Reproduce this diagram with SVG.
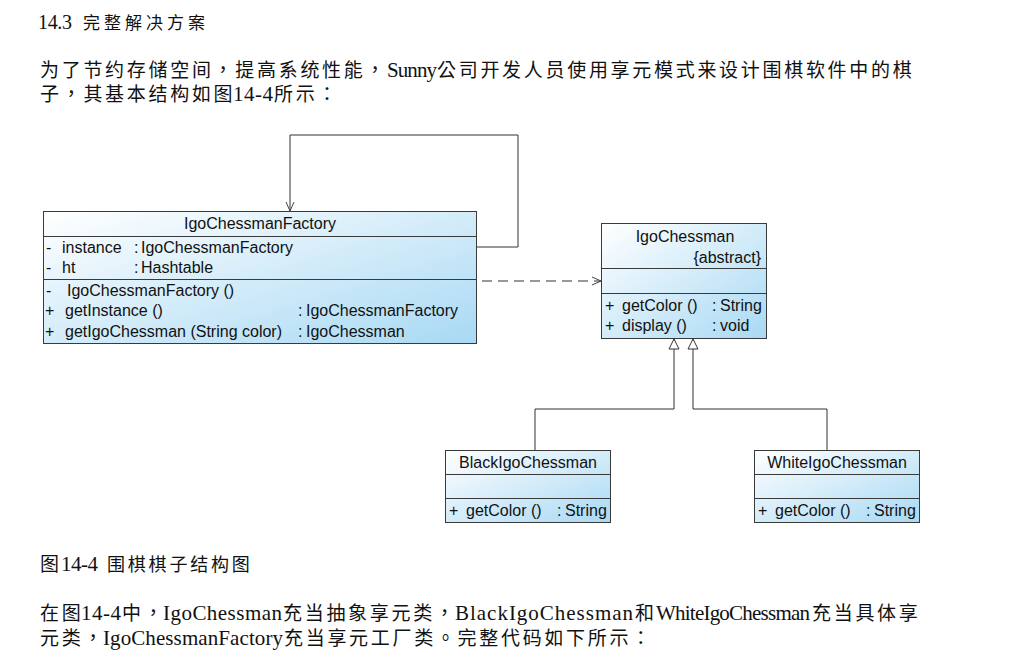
<svg xmlns="http://www.w3.org/2000/svg" width="1021" height="668" viewBox="0 0 1021 668">
<defs>
<linearGradient id="g" x1="0" y1="0" x2="1" y2="1">
<stop offset="0" stop-color="#ffffff"/>
<stop offset="1" stop-color="#a8d9f4"/>
</linearGradient>
<marker id="open" markerWidth="12" markerHeight="12" refX="10" refY="5" orient="auto" markerUnits="userSpaceOnUse">
<path d="M1,1 L10,5 L1,9" fill="none" stroke="#444" stroke-width="1"/>
</marker>
<marker id="tri" markerWidth="14" markerHeight="14" refX="11" refY="6" orient="auto" markerUnits="userSpaceOnUse">
<path d="M1,1 L11,6 L1,11 Z" fill="#fff" stroke="#333" stroke-width="1"/>
</marker>
</defs>
<style>
.bg{fill:#fff}
.box{fill:url(#g);stroke:#3a3a3a;stroke-width:1}
.dv{stroke:#3a3a3a;stroke-width:1}
.u{font-family:'Liberation Sans',Arial,sans-serif;font-size:16px;fill:#111}
.c{text-anchor:middle}
.e{text-anchor:end}
.t{font-family:'Liberation Serif','Noto Sans CJK TC',serif;fill:#111}
.lat{font-size:21px}
.cjk{font-size:19px;letter-spacing:2.7px}
.ln{fill:none;stroke:#333;stroke-width:1}
</style>
<rect class="bg" x="0" y="0" width="1021" height="668"/>

<g id="text-top">
<text class="t" x="38" y="29" font-size="20" textLength="34">14.3</text>
<text class="t" x="83" y="29" font-size="17" letter-spacing="4">完整解决方案</text>
<text class="t cjk" x="40" y="77">为了节约存储空间，提高系统性能，</text>
<text class="t lat" x="387" y="77" textLength="50">Sunny</text>
<text class="t cjk" x="437" y="77">公司开发人员使用享元模式来设计围棋软件中的棋</text>
<text class="t cjk" x="40" y="101">子，其基本结构如图</text>
<text class="t lat" x="233" y="101" textLength="40">14-4</text>
<text class="t cjk" x="274" y="101">所示：</text>
</g>

<g id="connectors">
<path class="ln" d="M476,247 H518 V135 H290 V211" stroke="#555" marker-end="url(#open)"/>
<path class="ln" d="M482,281 H601" stroke-dasharray="10,6" marker-end="url(#open)"/>
<path class="ln" d="M535,450 V409 H674 V339" marker-end="url(#tri)"/>
<path class="ln" d="M827,450 V409 H693 V339" marker-end="url(#tri)"/>
</g>

<g id="IgoChessmanFactory">
<rect class="box" x="43.5" y="211.5" width="433" height="132"/>
<line class="dv" x1="43.5" y1="236.5" x2="476.5" y2="236.5"/>
<line class="dv" x1="43.5" y1="279.5" x2="476.5" y2="279.5"/>
<text class="u c" x="260" y="229">IgoChessmanFactory</text>
<text class="u" x="46" y="253">-</text>
<text class="u" x="62" y="253">instance</text>
<text class="u" x="134" y="253">:</text>
<text class="u" x="141" y="253">IgoChessmanFactory</text>
<text class="u" x="46" y="273">-</text>
<text class="u" x="62" y="273">ht</text>
<text class="u" x="134" y="273">:</text>
<text class="u" x="141" y="273">Hashtable</text>
<text class="u" x="46" y="296">-</text>
<text class="u" x="67" y="296">IgoChessmanFactory ()</text>
<text class="u" x="45" y="316">+</text>
<text class="u" x="65" y="316">getInstance ()</text>
<text class="u" x="298" y="316">:</text>
<text class="u" x="306" y="316">IgoChessmanFactory</text>
<text class="u" x="45" y="337">+</text>
<text class="u" x="65" y="337">getIgoChessman (String color)</text>
<text class="u" x="298" y="337">:</text>
<text class="u" x="306" y="337">IgoChessman</text>
</g>

<g id="IgoChessman">
<rect class="box" x="601.5" y="223.5" width="165" height="115"/>
<line class="dv" x1="601.5" y1="268.5" x2="766.5" y2="268.5"/>
<line class="dv" x1="601.5" y1="293.5" x2="766.5" y2="293.5"/>
<text class="u c" x="685" y="242">IgoChessman</text>
<text class="u e" x="761" y="263">{abstract}</text>
<text class="u" x="605" y="311">+</text>
<text class="u" x="622" y="311">getColor ()</text>
<text class="u" x="712" y="311">:</text>
<text class="u" x="720" y="311">String</text>
<text class="u" x="605" y="331">+</text>
<text class="u" x="622" y="331">display ()</text>
<text class="u" x="712" y="331">:</text>
<text class="u" x="720" y="331">void</text>
</g>

<g id="BlackIgoChessman">
<rect class="box" x="445.5" y="450.5" width="165" height="72"/>
<line class="dv" x1="445.5" y1="474.5" x2="610.5" y2="474.5"/>
<line class="dv" x1="445.5" y1="498.5" x2="610.5" y2="498.5"/>
<text class="u c" x="528" y="468">BlackIgoChessman</text>
<text class="u" x="449" y="516">+</text>
<text class="u" x="466" y="516">getColor ()</text>
<text class="u" x="557" y="516">:</text>
<text class="u" x="565" y="516">String</text>
</g>

<g id="WhiteIgoChessman">
<rect class="box" x="754.5" y="450.5" width="165" height="72"/>
<line class="dv" x1="754.5" y1="474.5" x2="919.5" y2="474.5"/>
<line class="dv" x1="754.5" y1="498.5" x2="919.5" y2="498.5"/>
<text class="u c" x="837" y="468">WhiteIgoChessman</text>
<text class="u" x="758" y="516">+</text>
<text class="u" x="775" y="516">getColor ()</text>
<text class="u" x="866" y="516">:</text>
<text class="u" x="874" y="516">String</text>
</g>

<g id="text-bottom">
<text class="t cjk" x="40" y="571">图</text>
<text class="t lat" x="61" y="571" textLength="37">14-4</text>
<text class="t" x="107" y="571" font-size="18" letter-spacing="2.8">围棋棋子结构图</text>
<text class="t cjk" x="40" y="620" letter-spacing="3">在图</text>
<text class="t lat" x="81" y="620" textLength="40">14-4</text>
<text class="t cjk" x="122" y="620" letter-spacing="2">中，</text>
<text class="t lat" x="163" y="620" textLength="119">IgoChessman</text>
<text class="t cjk" x="283" y="620" letter-spacing="2.25">充当抽象享元类，</text>
<text class="t lat" x="455" y="620" textLength="178">BlackIgoChessman</text>
<text class="t" x="635" y="620" font-size="19">和</text>
<text class="t lat" x="656" y="620" textLength="154">WhiteIgoChessman</text>
<text class="t cjk" x="812" y="620" letter-spacing="3">充当具体享</text>
<text class="t cjk" x="40" y="645" letter-spacing="2">元类，</text>
<text class="t lat" x="103" y="645" textLength="180">IgoChessmanFactory</text>
<text class="t cjk" x="284" y="645" letter-spacing="2.4">充当享元工厂类。完整代码如下所示：</text>
</g>
</svg>
